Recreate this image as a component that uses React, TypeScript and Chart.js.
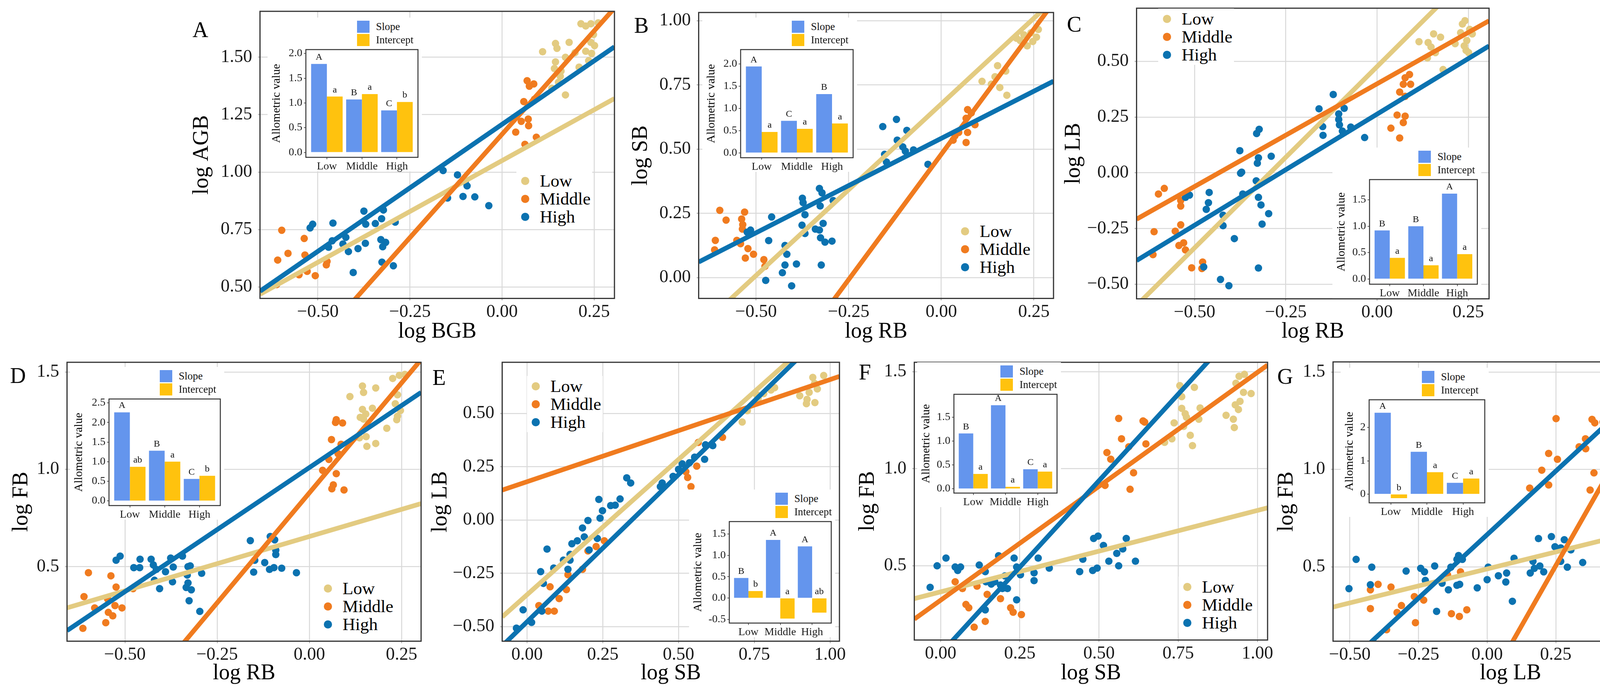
import React, { useEffect, useRef } from "react";
import Chart from "chart.js/auto";

type Pt = [number, number];

const groups = ["Low", "Middle", "High"];
const barSeries = ["Slope", "Intercept"];

// ---------- A: log AGB vs log BGB
const aLow: Pt[] = [
  [0.110, 1.524], [0.145, 1.560], [0.149, 1.539], [0.182, 1.565], [0.227, 1.636], [0.241, 1.646],
  [0.261, 1.650], [0.214, 1.646], [0.172, 1.500], [0.145, 1.480], [0.142, 1.451], [0.158, 1.417],
  [0.153, 1.391], [0.135, 1.365], [0.172, 1.336], [0.209, 1.457], [0.235, 1.485], [0.243, 1.517],
  [0.227, 1.526], [0.251, 1.551], [0.248, 1.599], [0.241, 1.565], [0.160, 1.440], [0.198, 1.520],
];
const aMiddle: Pt[] = [
  [-0.598, 0.747], [-0.537, 0.711], [-0.581, 0.646], [-0.609, 0.617], [-0.535, 0.639], [-0.529, 0.568],
  [-0.551, 0.553], [-0.507, 0.549], [-0.475, 0.611], [-0.477, 0.596], [-0.612, 0.510],
  [0.068, 1.398], [0.086, 1.384], [0.074, 1.374], [0.059, 1.307], [0.088, 1.317], [0.052, 1.221],
  [0.071, 1.231], [0.072, 1.202], [0.037, 1.174], [0.093, 1.152], [0.062, 1.121],
];
const aHigh: Pt[] = [
  [-0.160, 1.007], [-0.121, 0.988], [-0.100, 0.959], [-0.095, 0.940], [-0.148, 0.887], [-0.106, 0.894],
  [-0.074, 0.892], [-0.036, 0.854], [-0.375, 0.830], [-0.322, 0.835], [-0.514, 0.773], [-0.521, 0.757],
  [-0.459, 0.778], [-0.327, 0.797], [-0.370, 0.773], [-0.344, 0.776], [-0.290, 0.782], [-0.424, 0.716],
  [-0.461, 0.701], [-0.471, 0.673], [-0.417, 0.654], [-0.391, 0.667], [-0.371, 0.690], [-0.329, 0.706],
  [-0.316, 0.694], [-0.324, 0.675], [-0.326, 0.608], [-0.295, 0.592], [-0.404, 0.563], [-0.432, 0.687],
];
const aSlopes = [0.886, 1.8, 1.106];
const aIntercepts = [1.05, 1.165, 1.208];
const aSlopeBars = [1.79, 1.07, 0.85];
const aInterceptBars = [1.13, 1.18, 1.02];
const aSlopeLetters = ["A", "B", "C"];
const aInterceptLetters = ["a", "a", "b"];

// ---------- B: log SB vs log RB
const bLow: Pt[] = [
  [0.152, 0.825], [0.174, 0.804], [0.145, 0.782], [0.110, 0.764], [0.158, 0.740], [0.177, 0.710],
  [0.135, 0.753], [0.203, 0.932], [0.223, 0.945], [0.242, 0.953], [0.257, 0.936], [0.247, 0.919],
  [0.232, 0.902], [0.213, 0.923], [0.262, 0.966],
];
const bMiddle: Pt[] = [
  [-0.598, 0.262], [-0.581, 0.224], [-0.531, 0.255], [-0.539, 0.228], [-0.536, 0.206], [-0.537, 0.189],
  [-0.610, 0.145], [-0.552, 0.145], [-0.542, 0.132], [-0.612, 0.108], [-0.522, 0.113], [-0.507, 0.091],
  [-0.529, 0.076], [-0.479, 0.070], [-0.476, 0.044],
  [0.071, 0.654], [0.081, 0.641], [0.067, 0.620], [0.091, 0.595], [0.047, 0.565], [0.071, 0.565],
  [0.032, 0.535], [0.067, 0.526], [0.037, 0.552],
];
const bHigh: Pt[] = [
  [-0.158, 0.588], [-0.121, 0.616], [-0.093, 0.573], [-0.119, 0.535], [-0.104, 0.509], [-0.097, 0.492],
  [-0.075, 0.497], [-0.153, 0.480], [-0.148, 0.450], [-0.036, 0.441], [-0.329, 0.347], [-0.322, 0.330],
  [-0.375, 0.309], [-0.373, 0.292], [-0.327, 0.279], [-0.292, 0.300], [-0.458, 0.236], [-0.368, 0.245],
  [-0.515, 0.185], [-0.524, 0.177], [-0.376, 0.204], [-0.319, 0.211], [-0.340, 0.189], [-0.329, 0.185],
  [-0.466, 0.144], [-0.368, 0.172], [-0.326, 0.155], [-0.314, 0.138], [-0.295, 0.142], [-0.422, 0.125],
  [-0.417, 0.091], [-0.391, 0.053], [-0.422, 0.049], [-0.324, 0.049], [-0.429, 0.019], [-0.474, -0.011],
  [-0.404, -0.032],
];
const bSlopes = [1.335, 1.95, 0.735];
const bIntercepts = [0.676, 0.48, 0.542];
const bSlopeBars = [1.94, 0.72, 1.32];
const bInterceptBars = [0.47, 0.54, 0.66];
const bSlopeLetters = ["A", "C", "B"];
const bInterceptLetters = ["a", "a", "a"];

// ---------- C: log LB vs log RB
const cLow: Pt[] = [
  [0.234, 0.667], [0.241, 0.682], [0.254, 0.643], [0.229, 0.628], [0.261, 0.623], [0.155, 0.623],
  [0.174, 0.608], [0.115, 0.588], [0.140, 0.584], [0.148, 0.564], [0.160, 0.539], [0.214, 0.579],
  [0.239, 0.569], [0.244, 0.549], [0.251, 0.539], [0.138, 0.515], [0.181, 0.463], [0.246, 0.593],
];
const cMiddle: Pt[] = [
  [-0.583, -0.070], [-0.599, -0.095], [-0.538, -0.124], [-0.538, -0.149], [-0.538, -0.233], [-0.611, -0.264],
  [-0.553, -0.262], [-0.530, -0.314], [-0.543, -0.326], [-0.525, -0.346], [-0.614, -0.367], [-0.478, -0.400],
  [-0.508, -0.426], [-0.480, -0.429],
  [0.089, 0.441], [0.077, 0.426], [0.072, 0.397], [0.092, 0.397], [0.062, 0.362], [0.077, 0.343],
  [0.055, 0.259], [0.077, 0.254], [0.072, 0.225], [0.038, 0.200], [0.062, 0.156],
];
const cHigh: Pt[] = [
  [-0.120, 0.351], [-0.159, 0.287], [-0.090, 0.289], [-0.105, 0.264], [-0.105, 0.239], [-0.149, 0.207],
  [-0.103, 0.215], [-0.072, 0.205], [-0.095, 0.187], [-0.148, 0.168], [-0.034, 0.158], [-0.323, 0.195],
  [-0.330, 0.176], [-0.376, 0.099], [-0.325, 0.067], [-0.328, 0.043], [-0.290, 0.074], [-0.371, 0.003],
  [-0.374, -0.002], [-0.331, -0.036], [-0.368, -0.095], [-0.325, -0.110], [-0.318, -0.144], [-0.297, -0.183],
  [-0.315, -0.230], [-0.460, -0.088], [-0.514, -0.100], [-0.525, -0.110], [-0.462, -0.134], [-0.468, -0.164],
  [-0.422, -0.190], [-0.422, -0.237], [-0.391, -0.295], [-0.475, -0.422], [-0.325, -0.427], [-0.429, -0.478],
  [-0.406, -0.506],
];
const cSlopes = [1.625, 0.921, 0.996];
const cIntercepts = [0.476, 0.399, 0.263];
const cSlopeBars = [0.92, 1.0, 1.62];
const cInterceptBars = [0.4, 0.26, 0.47];
const cSlopeLetters = ["B", "B", "A"];
const cInterceptLetters = ["a", "a", "a"];

// ---------- D: log FB vs log RB
const dLow: Pt[] = [
  [0.226, 1.467], [0.244, 1.483], [0.259, 1.488], [0.144, 1.428], [0.147, 1.395], [0.180, 1.418],
  [0.110, 1.374], [0.239, 1.383], [0.233, 1.337], [0.144, 1.308], [0.171, 1.314], [0.153, 1.284],
  [0.138, 1.267], [0.147, 1.258], [0.239, 1.273], [0.237, 1.255], [0.210, 1.211], [0.136, 1.162],
  [0.154, 1.168], [0.180, 1.133], [0.156, 1.118], [0.247, 1.302],
];
const dMiddle: Pt[] = [
  [0.073, 1.255], [0.071, 1.241], [0.090, 1.238], [0.060, 1.153], [0.086, 1.129], [0.078, 1.080],
  [0.053, 1.051], [0.036, 0.995], [0.073, 0.978], [0.065, 0.920], [0.061, 0.900], [0.094, 0.894],
  [-0.599, 0.469], [-0.538, 0.453], [-0.524, 0.395], [-0.611, 0.346], [-0.582, 0.288], [-0.547, 0.334],
  [-0.527, 0.300], [-0.508, 0.288], [-0.545, 0.265], [-0.533, 0.247], [-0.552, 0.212], [-0.614, 0.183],
  [-0.478, 0.387],
];
const dHigh: Pt[] = [
  [-0.160, 0.634], [-0.106, 0.655], [-0.094, 0.638], [-0.091, 0.562], [-0.091, 0.585], [-0.148, 0.533],
  [-0.121, 0.521], [-0.151, 0.472], [-0.108, 0.486], [-0.096, 0.495], [-0.075, 0.492], [-0.035, 0.469],
  [-0.524, 0.533], [-0.513, 0.554], [-0.459, 0.538], [-0.429, 0.538], [-0.476, 0.495], [-0.460, 0.495],
  [-0.423, 0.509], [-0.415, 0.486], [-0.376, 0.544], [-0.344, 0.554], [-0.390, 0.474], [-0.369, 0.498],
  [-0.329, 0.500], [-0.323, 0.504], [-0.292, 0.466], [-0.331, 0.457], [-0.420, 0.430], [-0.371, 0.422],
  [-0.329, 0.416], [-0.406, 0.387], [-0.334, 0.393], [-0.320, 0.381], [-0.326, 0.325], [-0.297, 0.270],
];
const dSlopes = [0.558, 2.26, 1.275];
const dIntercepts = [0.655, 0.879, 1.009];
const dSlopeBars = [2.26, 1.28, 0.56];
const dInterceptBars = [0.87, 1.0, 0.64];
const dSlopeLetters = ["A", "B", "C"];
const dInterceptLetters = ["ab", "a", "b"];

// ---------- E: log LB vs log SB
const eLow: Pt[] = [
  [0.943, 0.669], [0.979, 0.678], [0.949, 0.641], [0.931, 0.599], [0.958, 0.615], [0.900, 0.583],
  [0.924, 0.566], [0.950, 0.551], [0.922, 0.546], [0.805, 0.610], [0.817, 0.621], [0.781, 0.593],
  [0.763, 0.571], [0.758, 0.588], [0.727, 0.513], [0.710, 0.460],
];
const eMiddle: Pt[] = [
  [0.076, -0.313], [0.039, -0.401], [0.070, -0.427], [0.090, -0.427], [0.106, -0.368],
  [0.565, 0.364], [0.645, 0.388], [0.524, 0.227], [0.530, 0.200], [0.541, 0.157], [0.560, 0.253],
  [0.255, -0.097], [0.228, -0.124], [0.201, -0.145], [0.183, -0.231], [0.135, -0.256], [0.130, -0.326],
];
const eHigh: Pt[] = [
  [0.066, -0.136], [0.045, -0.242], [0.088, -0.225], [0.120, -0.188], [0.054, -0.297], [-0.013, -0.421],
  [-0.035, -0.507], [0.015, -0.480], [0.049, -0.427], [0.329, 0.198], [0.342, 0.174], [0.237, 0.097],
  [0.249, 0.044], [0.241, 0.009], [0.276, 0.068], [0.291, 0.070], [0.307, 0.099], [0.201, -0.002],
  [0.183, -0.037], [0.189, -0.079], [0.166, -0.097], [0.148, -0.111], [0.232, -0.086], [0.205, -0.140],
  [0.142, -0.161], [0.142, -0.188], [0.135, -0.231], [0.440, 0.157], [0.446, 0.174], [0.482, 0.205],
  [0.500, 0.238], [0.512, 0.264], [0.553, 0.295], [0.589, 0.353], [0.613, 0.349], [0.586, 0.285],
  [0.536, 0.269],
];
const eSlopes = [1.269, 0.479, 1.381];
const eIntercepts = [-0.35, 0.18, -0.477];
const eSlopeBars = [0.47, 1.36, 1.21];
const eInterceptBars = [0.165, -0.48, -0.34];
const eSlopeLetters = ["B", "A", "A"];
const eInterceptLetters = ["b", "a", "ab"];

// ---------- F: log FB vs log SB
const fLow: Pt[] = [
  [0.755, 1.428], [0.801, 1.419], [0.761, 1.371], [0.761, 1.311], [0.772, 1.283], [0.776, 1.265],
  [0.819, 1.313], [0.815, 1.255], [0.737, 1.236], [0.767, 1.218], [0.788, 1.172], [0.707, 1.136],
  [0.730, 1.154], [0.795, 1.119], [0.942, 1.476], [0.959, 1.486], [0.932, 1.440], [0.956, 1.393],
  [0.980, 1.387], [0.930, 1.329], [0.945, 1.347], [0.940, 1.305], [0.901, 1.275], [0.924, 1.255],
  [0.927, 1.212],
];
const fMiddle: Pt[] = [
  [0.046, 0.418], [0.069, 0.383], [0.115, 0.395], [0.080, 0.301], [0.089, 0.284], [0.147, 0.353],
  [0.189, 0.331], [0.221, 0.284], [0.229, 0.261], [0.255, 0.249], [0.141, 0.214], [0.106, 0.184],
  [0.525, 1.083], [0.537, 1.049], [0.519, 0.914], [0.562, 1.259], [0.639, 1.246], [0.644, 1.240],
  [0.571, 1.154], [0.594, 1.113], [0.648, 1.128], [0.609, 0.979], [0.598, 0.894],
];
const fHigh: Pt[] = [
  [0.017, 0.540], [-0.011, 0.500], [-0.033, 0.389], [0.046, 0.494], [0.063, 0.494], [0.054, 0.476],
  [0.122, 0.504], [0.141, 0.470], [0.183, 0.552], [0.232, 0.540], [0.240, 0.494], [0.252, 0.454],
  [0.295, 0.464], [0.308, 0.540], [0.343, 0.488], [0.295, 0.424], [0.143, 0.418], [0.160, 0.406],
  [0.171, 0.418], [0.189, 0.401], [0.195, 0.383], [0.211, 0.383], [0.240, 0.325], [0.141, 0.273],
  [0.203, 0.448], [0.439, 0.470], [0.449, 0.534], [0.480, 0.476], [0.494, 0.488], [0.483, 0.641],
  [0.497, 0.653], [0.514, 0.605], [0.531, 0.524], [0.586, 0.641], [0.575, 0.587], [0.556, 0.564],
  [0.615, 0.524], [0.562, 0.500],
];
const fSlopes = [0.419, 1.173, 1.781];
const fIntercepts = [0.366, 0.323, 0.048];
const fSlopeBars = [1.16, 1.75, 0.41];
const fInterceptBars = [0.31, 0.04, 0.36];
const fSlopeLetters = ["B", "A", "C"];
const fInterceptLetters = ["a", "a", "a"];

// ---------- G: log FB vs log LB
const gLow: Pt[] = [
  [0.547, 1.472], [0.540, 1.442], [0.557, 1.420], [0.615, 1.488], [0.658, 1.472], [0.671, 1.390],
  [0.618, 1.349], [0.577, 1.378], [0.567, 1.343], [0.604, 1.319], [0.557, 1.301], [0.584, 1.285],
  [0.577, 1.261], [0.618, 1.257], [0.537, 1.243], [0.577, 1.215], [0.574, 1.175], [0.503, 1.163],
  [0.459, 1.133], [0.597, 1.118],
];
const gMiddle: Pt[] = [
  [0.251, 1.261], [0.382, 1.257], [0.392, 1.239], [0.422, 1.243], [0.358, 1.157], [0.335, 1.116],
  [0.359, 1.106], [0.440, 1.130], [0.224, 1.082], [0.256, 1.052], [0.199, 0.996], [0.389, 0.982],
  [0.155, 0.904], [0.224, 0.920], [0.375, 0.894], [-0.397, 0.410], [-0.350, 0.396], [-0.425, 0.382],
  [-0.425, 0.285], [-0.312, 0.301], [-0.328, 0.265], [-0.265, 0.347], [-0.231, 0.329], [-0.261, 0.213],
  [-0.130, 0.259], [-0.101, 0.245], [-0.074, 0.279], [-0.366, 0.177], [-0.144, 0.458], [-0.097, 0.474],
];
const gHigh: Pt[] = [
  [-0.477, 0.538], [-0.420, 0.498], [-0.503, 0.388], [-0.425, 0.408], [-0.295, 0.478], [-0.242, 0.492],
  [-0.228, 0.474], [-0.191, 0.504], [-0.225, 0.430], [-0.164, 0.416], [-0.141, 0.382], [-0.132, 0.498],
  [-0.110, 0.538], [-0.104, 0.558], [-0.090, 0.538], [-0.100, 0.410], [-0.110, 0.405], [-0.184, 0.271],
  [-0.036, 0.392], [0.000, 0.434], [0.004, 0.498], [0.041, 0.454], [0.068, 0.422], [0.071, 0.468],
  [0.098, 0.544], [0.092, 0.323], [0.157, 0.468], [0.167, 0.528], [0.172, 0.492], [0.192, 0.504],
  [0.206, 0.474], [0.187, 0.645], [0.234, 0.655], [0.281, 0.639], [0.247, 0.603], [0.268, 0.597],
  [0.305, 0.587], [0.268, 0.528], [0.292, 0.498], [0.348, 0.522],
];
const gSlopes = [0.349, 2.48, 1.305];
const gIntercepts = [0.489, -0.114, 0.665];
const gSlopeBars = [2.44, 1.27, 0.34];
const gInterceptBars = [-0.12, 0.66, 0.47];
const gSlopeLetters = ["A", "B", "C"];
const gInterceptLetters = ["b", "a", "a"];

// ---------- tick labels
const rbTicks = [-0.5, -0.25, 0, 0.25];
const rbTickLabels = ["\u22120.50", "\u22120.25", "0.00", "0.25"];
const agbTicks = [0.5, 0.75, 1, 1.25, 1.5];
const agbTickLabels = ["0.50", "0.75", "1.00", "1.25", "1.50"];
const sbTicks = [0, 0.25, 0.5, 0.75, 1];
const sbTickLabels = ["0.00", "0.25", "0.50", "0.75", "1.00"];
const lbTicks = [-0.5, -0.25, 0, 0.25, 0.5];
const lbTickLabels = ["\u22120.50", "\u22120.25", "0.00", "0.25", "0.50"];
const fbTicks = [0.5, 1, 1.5];
const fbTickLabels = ["0.5", "1.0", "1.5"];

const barTicks2 = [0, 0.5, 1, 1.5, 2];
const barTickLabels2 = ["0.0", "0.5", "1.0", "1.5", "2.0"];
const barTicks15 = [0, 0.5, 1, 1.5];
const barTickLabels15 = ["0.0", "0.5", "1.0", "1.5"];
const barTicks25 = [0, 0.5, 1, 1.5, 2, 2.5];
const barTickLabels25 = ["0.0", "0.5", "1.0", "1.5", "2.0", "2.5"];
const barTicksE = [-0.5, 0, 0.5, 1, 1.5];
const barTickLabelsE = ["-0.5", "0.0", "0.5", "1.0", "1.5"];
const barTicksG = [0, 1, 2];
const barTickLabelsG = ["0", "1", "2"];

// ---------- styles
const SERIF = "'Liberation Serif', 'Times New Roman', Times, serif";
const COLORS = ["#E3CB81", "#F07B1F", "#0B72B0"];
const BAR_COLORS = ["#6495ED", "#FFC20E"];
const TITLE_SIZE = 56;
const HALF_TITLE = TITLE_SIZE * 0.6;
const PAD_T = 50;
const PAD_R = 50;

interface InsetSpec {
  box: number[];
  yRange: number[];
  yTicks: number[];
  yTickLabels: string[];
  titleGap: number;
  slopes: number[];
  intercepts: number[];
  slopeLetters: string[];
  interceptLetters: string[];
}

interface PanelSpec {
  letter: string;
  letterPos: number[];
  plot: number[];
  xRange: number[];
  yRange: number[];
  xTicks: number[];
  xTickLabels: string[];
  yTicks: number[];
  yTickLabels: string[];
  xTitle: string;
  yTitle: string;
  yTitleX: number;
  xTitleY: number;
  points: Pt[][];
  slopes: number[];
  intercepts: number[];
  legend: number[];
  inset: InsetSpec;
}

const panels: PanelSpec[] = [
  {
    letter: "A", letterPos: [513, 76], plot: [666, 29, 1573, 764],
    xRange: [-0.657, 0.305], yRange: [0.45, 1.7],
    xTicks: rbTicks, xTickLabels: rbTickLabels, yTicks: agbTicks, yTickLabels: agbTickLabels,
    xTitle: "log BGB", yTitle: "log AGB", yTitleX: 518, xTitleY: 850,
    points: [aLow, aMiddle, aHigh], slopes: aSlopes, intercepts: aIntercepts, legend: [1344, 463],
    inset: {
      box: [783, 127, 1070, 403], yRange: [-0.1, 2.08], yTicks: barTicks2, yTickLabels: barTickLabels2,
      titleGap: 75, slopes: aSlopeBars, intercepts: aInterceptBars,
      slopeLetters: aSlopeLetters, interceptLetters: aInterceptLetters,
    },
  },
  {
    letter: "B", letterPos: [1642, 65], plot: [1789, 32, 2697, 764],
    xRange: [-0.655, 0.303], yRange: [-0.081, 1.032],
    xTicks: rbTicks, xTickLabels: rbTickLabels, yTicks: sbTicks, yTickLabels: sbTickLabels,
    xTitle: "log RB", yTitle: "log SB", yTitleX: 1642, xTitleY: 850,
    points: [bLow, bMiddle, bHigh], slopes: bSlopes, intercepts: bIntercepts, legend: [2470, 592],
    inset: {
      box: [1896, 127, 2184, 404], yRange: [-0.11, 2.32], yTicks: barTicks2, yTickLabels: barTickLabels2,
      titleGap: 75, slopes: bSlopeBars, intercepts: bInterceptBars,
      slopeLetters: bSlopeLetters, interceptLetters: bInterceptLetters,
    },
  },
  {
    letter: "C", letterPos: [2750, 62], plot: [2910, 21, 3812, 765],
    xRange: [-0.659, 0.307], yRange: [-0.565, 0.738],
    xTicks: rbTicks, xTickLabels: rbTickLabels, yTicks: lbTicks, yTickLabels: lbTickLabels,
    xTitle: "log RB", yTitle: "log LB", yTitleX: 2750, xTitleY: 850,
    points: [cLow, cMiddle, cHigh], slopes: cSlopes, intercepts: cIntercepts, legend: [2987, 48],
    inset: {
      box: [3506, 460, 3782, 728], yRange: [-0.1, 1.886], yTicks: barTicks15, yTickLabels: barTickLabels15,
      titleGap: 72, slopes: cSlopeBars, intercepts: cInterceptBars,
      slopeLetters: cSlopeLetters, interceptLetters: cInterceptLetters,
    },
  },
  {
    letter: "D", letterPos: [46, 962], plot: [172, 928, 1078, 1642],
    xRange: [-0.657, 0.303], yRange: [0.117, 1.55],
    xTicks: rbTicks, xTickLabels: rbTickLabels, yTicks: fbTicks, yTickLabels: fbTickLabels,
    xTitle: "log RB", yTitle: "log FB", yTitleX: 56, xTitleY: 1725,
    points: [dLow, dMiddle, dHigh], slopes: dSlopes, intercepts: dIntercepts, legend: [839, 1507],
    inset: {
      box: [279, 1022, 564, 1295], yRange: [-0.12, 2.6], yTicks: barTicks25, yTickLabels: barTickLabels25,
      titleGap: 77, slopes: dSlopeBars, intercepts: dInterceptBars,
      slopeLetters: dSlopeLetters, interceptLetters: dInterceptLetters,
    },
  },
  {
    letter: "E", letterPos: [1124, 967], plot: [1286, 928, 2149, 1642],
    xRange: [-0.082, 1.031], yRange: [-0.568, 0.74],
    xTicks: sbTicks, xTickLabels: sbTickLabels, yTicks: lbTicks, yTickLabels: lbTickLabels,
    xTitle: "log SB", yTitle: "log LB", yTitleX: 1129, xTitleY: 1725,
    points: [eLow, eMiddle, eHigh], slopes: eSlopes, intercepts: eIntercepts, legend: [1371, 989],
    inset: {
      box: [1867, 1336, 2128, 1596], yRange: [-0.585, 1.79], yTicks: barTicksE, yTickLabels: barTickLabelsE,
      titleGap: 80, slopes: eSlopeBars, intercepts: eInterceptBars,
      slopeLetters: eSlopeLetters, interceptLetters: eInterceptLetters,
    },
  },
  {
    letter: "F", letterPos: [2214, 953], plot: [2341, 928, 3245, 1639],
    xRange: [-0.083, 1.032], yRange: [0.118, 1.548],
    xTicks: sbTicks, xTickLabels: sbTickLabels, yTicks: fbTicks, yTickLabels: fbTickLabels,
    xTitle: "log SB", yTitle: "log FB", yTitleX: 2223, xTitleY: 1725,
    points: [fLow, fMiddle, fHigh], slopes: fSlopes, intercepts: fIntercepts, legend: [3039, 1503],
    inset: {
      box: [2442, 1010, 2706, 1263], yRange: [-0.09, 1.98], yTicks: barTicks15, yTickLabels: barTickLabels15,
      titleGap: 71, slopes: fSlopeBars, intercepts: fInterceptBars,
      slopeLetters: fSlopeLetters, interceptLetters: fInterceptLetters,
    },
  },
  {
    letter: "G", letterPos: [3290, 964], plot: [3413, 927, 4321, 1642],
    xRange: [-0.561, 0.731], yRange: [0.118, 1.552],
    xTicks: lbTicks, xTickLabels: lbTickLabels, yTicks: fbTicks, yTickLabels: fbTickLabels,
    xTitle: "log LB", yTitle: "log FB", yTitleX: 3295, xTitleY: 1725,
    points: [gLow, gMiddle, gHigh], slopes: gSlopes, intercepts: gIntercepts, legend: [4135, 1513],
    inset: {
      box: [3505, 1024, 3801, 1288], yRange: [-0.26, 2.83], yTicks: barTicksG, yTickLabels: barTickLabelsG,
      titleGap: 50, slopes: gSlopeBars, intercepts: gInterceptBars,
      slopeLetters: gSlopeLetters, interceptLetters: gInterceptLetters,
    },
  },
];

// draws the full box around the plot area
const framePlugin = (width: number) => ({
  id: "frame",
  afterDraw(chart: any) {
    const { ctx, chartArea: a } = chart;
    ctx.save();
    ctx.strokeStyle = "#333333";
    ctx.lineWidth = width;
    ctx.strokeRect(a.left, a.top, a.right - a.left, a.bottom - a.top);
    ctx.restore();
  },
});

const ScatterPanel = ({ spec }: { spec: PanelSpec }) => {
  const ref = useRef<HTMLCanvasElement>(null);
  const [l, t, r, b] = spec.plot;
  const yw = l - (spec.yTitleX - HALF_TITLE);
  const xh = spec.xTitleY + HALF_TITLE - b;
  const w = Math.round(yw + (r - l) + PAD_R);
  const h = Math.round(PAD_T + (b - t) + xh);

  useEffect(() => {
    const ctx = ref.current?.getContext("2d");
    if (!ctx) return;
    const [x0, x1] = spec.xRange;
    const fits = spec.slopes.map((m, i) => ({
      label: groups[i] + " fit",
      data: [
        { x: x0, y: spec.intercepts[i] + m * x0 },
        { x: x1, y: spec.intercepts[i] + m * x1 },
      ],
      showLine: true,
      borderColor: COLORS[i],
      borderWidth: 12,
      borderCapStyle: "butt",
      pointRadius: 0,
      pointHoverRadius: 0,
      clip: 0,
      order: 2 - i,
    }));
    const dots = spec.points.map((pts, i) => ({
      label: groups[i],
      data: pts.map(([x, y]) => ({ x, y })),
      backgroundColor: COLORS[i],
      pointBackgroundColor: COLORS[i],
      pointBorderWidth: 0,
      borderWidth: 0,
      pointRadius: 9.5,
      clip: 0,
      order: 5 - i,
    }));
    const tickFont = { family: SERIF, size: 46 };
    const titleFont = { family: SERIF, size: TITLE_SIZE, lineHeight: 1.2 };
    const grid = { color: "#D9D9D9", lineWidth: 2.5, tickLength: 5, tickColor: "#B0B0B0" };

    const chart = new Chart(ctx, {
      type: "scatter",
      data: { datasets: [...fits, ...dots] as any },
      options: {
        animation: false,
        responsive: false,
        devicePixelRatio: 1,
        events: [],
        layout: { padding: { top: PAD_T, right: PAD_R, left: 0, bottom: 0 } },
        plugins: { legend: { display: false }, tooltip: { enabled: false } },
        scales: {
          x: {
            type: "linear",
            min: x0,
            max: x1,
            afterBuildTicks: (s: any) => {
              s.ticks = spec.xTicks.map((v) => ({ value: v }));
            },
            afterFit: (s: any) => {
              s.height = xh;
            },
            ticks: {
              callback: (_v: any, i: number) => spec.xTickLabels[i],
              font: tickFont,
              color: "#1a1a1a",
              padding: 3,
              maxRotation: 0,
              autoSkip: false,
            },
            grid,
            border: { display: false },
            title: { display: true, text: spec.xTitle, color: "#000", font: titleFont, padding: 0 },
          },
          y: {
            type: "linear",
            min: spec.yRange[0],
            max: spec.yRange[1],
            afterBuildTicks: (s: any) => {
              s.ticks = spec.yTicks.map((v) => ({ value: v }));
            },
            afterFit: (s: any) => {
              s.width = yw;
            },
            ticks: {
              callback: (_v: any, i: number) => spec.yTickLabels[i],
              font: tickFont,
              color: "#1a1a1a",
              padding: 15,
              autoSkip: false,
            },
            grid,
            border: { display: false },
            title: { display: true, text: spec.yTitle, color: "#000", font: titleFont, padding: 0 },
          },
        },
      } as any,
      plugins: [framePlugin(3)],
    });
    return () => chart.destroy();
  }, [spec]);

  return (
    <canvas
      ref={ref}
      width={w}
      height={h}
      style={{ position: "absolute", left: l - yw, top: t - PAD_T, width: w, height: h }}
    />
  );
};

const I_PAD_T = 26;
const I_PAD_R = 8;
const I_XH = 38;

const InsetBars = ({ spec }: { spec: InsetSpec }) => {
  const ref = useRef<HTMLCanvasElement>(null);
  const [l, t, r, b] = spec.box;
  const yw = spec.titleGap + 18;
  const w = yw + (r - l) + I_PAD_R;
  const h = I_PAD_T + (b - t) + I_XH;

  useEffect(() => {
    const ctx = ref.current?.getContext("2d");
    if (!ctx) return;
    const letters = [spec.slopeLetters, spec.interceptLetters];
    const letterPlugin = {
      id: "letters",
      afterDatasetsDraw(chart: any) {
        const c = chart.ctx;
        c.save();
        c.font = `24px ${SERIF}`;
        c.fillStyle = "#111";
        c.textAlign = "center";
        c.textBaseline = "bottom";
        letters.forEach((row, i) => {
          chart.getDatasetMeta(i).data.forEach((bar: any, j: number) => {
            c.fillText(row[j], bar.x, Math.min(bar.y, bar.base) - 5);
          });
        });
        c.restore();
      },
    };
    const series = [spec.slopes, spec.intercepts];
    const chart = new Chart(ctx, {
      type: "bar",
      data: {
        datasets: series.map((vals, k) => ({
          label: barSeries[k],
          data: vals.map((v, i) => ({ x: i + 1, y: v })),
          backgroundColor: BAR_COLORS[k],
          categoryPercentage: 0.9,
          barPercentage: 1,
        })),
      },
      options: {
        animation: false,
        responsive: false,
        devicePixelRatio: 1,
        events: [],
        layout: { padding: { top: I_PAD_T, right: I_PAD_R, left: 0, bottom: 0 } },
        plugins: { legend: { display: false }, tooltip: { enabled: false } },
        scales: {
          x: {
            type: "linear",
            offset: false,
            min: 0.4,
            max: 3.6,
            afterBuildTicks: (s: any) => {
              s.ticks = groups.map((_g, i) => ({ value: i + 1 }));
            },
            afterFit: (s: any) => {
              s.height = I_XH;
            },
            ticks: {
              callback: (_v: any, i: number) => groups[i],
              font: { family: SERIF, size: 28 },
              color: "#1a1a1a",
              padding: 2,
              maxRotation: 0,
              autoSkip: false,
            },
            grid: { offset: false, drawOnChartArea: false, tickLength: 5, tickColor: "#333", lineWidth: 1.5 },
            border: { display: false },
          },
          y: {
            min: spec.yRange[0],
            max: spec.yRange[1],
            afterBuildTicks: (s: any) => {
              s.ticks = spec.yTicks.map((v) => ({ value: v }));
            },
            afterFit: (s: any) => {
              s.width = yw;
            },
            ticks: {
              callback: (_v: any, i: number) => spec.yTickLabels[i],
              font: { family: SERIF, size: 28 },
              color: "#1a1a1a",
              padding: 4,
              autoSkip: false,
            },
            grid: { drawOnChartArea: false, tickLength: 5, tickColor: "#333", lineWidth: 1.5 },
            border: { display: false },
            title: {
              display: true,
              text: "Allometric value",
              color: "#000",
              font: { family: SERIF, size: 30, lineHeight: 1.2 },
              padding: 0,
            },
          },
        },
      } as any,
      plugins: [framePlugin(2.5), letterPlugin],
    });
    return () => chart.destroy();
  }, [spec]);

  const cx = (l + r) / 2 - 13;
  return (
    <>
      <div
        style={{
          position: "absolute",
          left: l - yw - 5,
          top: t - 82,
          width: r - l + yw + 15,
          height: b - t + 118,
          background: "#fff",
        }}
      />
      <canvas
        ref={ref}
        width={w}
        height={h}
        style={{ position: "absolute", left: l - yw, top: t - I_PAD_T, width: w, height: h }}
      />
      {barSeries.map((name, i) => (
        <React.Fragment key={name}>
          <div
            style={{
              position: "absolute",
              left: cx,
              top: t - 74 + i * 34,
              width: 32,
              height: 31,
              background: BAR_COLORS[i],
            }}
          />
          <div
            style={{
              position: "absolute",
              left: cx + 49,
              top: t - 74 + i * 34 + 15,
              transform: "translateY(-50%)",
              font: `27px ${SERIF}`,
              lineHeight: "1",
              color: "#111",
              whiteSpace: "nowrap",
            }}
          >
            {name}
          </div>
        </React.Fragment>
      ))}
    </>
  );
};

const GroupLegend = ({ x, y }: { x: number; y: number }) => (
  <>
    <div
      style={{ position: "absolute", left: x - 22, top: y - 26, width: 194, height: 144, background: "#fff" }}
    />
    {groups.map((g, i) => (
      <React.Fragment key={g}>
        <div
          style={{
            position: "absolute",
            left: x - 10.5,
            top: y + i * 46 - 10.5,
            width: 21,
            height: 21,
            borderRadius: "50%",
            background: COLORS[i],
          }}
        />
        <div
          style={{
            position: "absolute",
            left: x + 38,
            top: y + i * 46,
            transform: "translateY(-50%)",
            font: `45px ${SERIF}`,
            lineHeight: "1",
            color: "#000",
            whiteSpace: "nowrap",
          }}
        >
          {g}
        </div>
      </React.Fragment>
    ))}
  </>
);

export default function App() {
  return (
    <div
      style={{
        position: "absolute",
        left: 0,
        top: 0,
        width: 4334,
        height: 1770,
        background: "#fff",
        overflow: "hidden",
      }}
    >
      {panels.map((p) => (
        <React.Fragment key={p.letter}>
          <ScatterPanel spec={p} />
          <GroupLegend x={p.legend[0]} y={p.legend[1]} />
          <InsetBars spec={p.inset} />
          <div
            style={{
              position: "absolute",
              left: p.letterPos[0],
              top: p.letterPos[1],
              transform: "translate(-50%, -50%)",
              font: `${TITLE_SIZE}px ${SERIF}`,
              lineHeight: "1",
              color: "#000",
            }}
          >
            {p.letter}
          </div>
        </React.Fragment>
      ))}
    </div>
  );
}
